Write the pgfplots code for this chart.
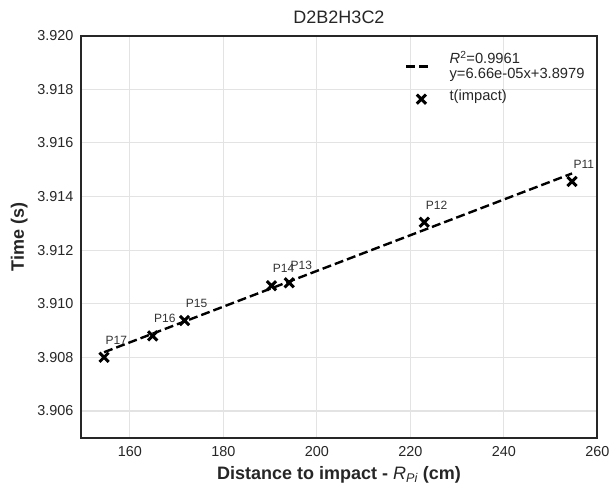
\documentclass[border=0pt]{standalone}
\usepackage{fontspec}
\setmainfont{Liberation Sans}
\usepackage{pgfplots}
\pgfplotsset{compat=1.18}
\usepackage{pgfplotstable}
\definecolor{axcol}{HTML}{262626}
\definecolor{gridcol}{HTML}{E3E3E3}
\definecolor{lblcol}{HTML}{333333}

\pgfplotsset{
  fitleg/.style={legend image code/.code={\draw[##1] (0pt,1pt) -- (25pt,1pt);}},
  markleg/.style={legend image code/.code={\draw[##1] plot coordinates {(15pt,-2pt)};}},
}

\pgfplotstableread{
label x y
P17 154.5 3.90800
P16 164.9 3.90880
P15 171.7 3.90937
P14 190.3 3.91067
P13 194.1 3.91078
P12 223.0 3.91304
P11 254.6 3.91456
}\pointdata

\pgfplotstableread{
x y
154.5 3.90819
254.6 3.91486
}\fitdata

\begin{document}
\begin{tikzpicture}
\useasboundingbox (-80.7pt,-47.3pt) rectangle (529.3pt,437.7pt);
\begin{axis}[
  at={(0pt,0pt)}, anchor=south west,
  scale only axis, width=516.6pt, height=402pt,
  xmin=149.5, xmax=260, ymin=3.905, ymax=3.920,
  xtick={160,180,200,220,240,260},
  ytick={3.906,3.908,3.910,3.912,3.914,3.916,3.918,3.920},
  scaled ticks=false,
  major tick length=0pt,
  tick style={draw=none},
  grid=major,
  major grid style={gridcol, line width=1.2pt},
  axis line style={axcol, line width=2pt},
  clip=false,
  x tick label style={font=\fontsize{14.4}{16}\selectfont, text=axcol, anchor=north, inner sep=0pt, yshift=-9pt, /pgf/number format/assume math mode=true},
  y tick label style={font=\fontsize{14.4}{16}\selectfont, text=axcol, anchor=east, inner sep=0pt, xshift=-7.2pt, /pgf/number format/fixed, /pgf/number format/fixed zerofill, /pgf/number format/precision=3, /pgf/number format/assume math mode=true},
  title={D2B2H3C2},
  title style={font=\fontsize{18}{21}\selectfont, text=axcol, at={(axis description cs:0.5,1)}, anchor=base, inner sep=0pt, yshift=6.4pt},
  xlabel={Distance to impact - {\mdseries\itshape R}\textsubscript{\mdseries\itshape Pi} (cm)},
  xlabel style={font=\fontsize{18}{21}\selectfont\bfseries, text=axcol, at={(axis description cs:0.5,0)}, anchor=base, inner sep=0pt, yshift=-41.3pt},
  ylabel={Time (s)},
  ylabel style={font=\fontsize{18}{21}\selectfont\bfseries, text=axcol, at={(axis description cs:0,0.5)}, anchor=south, inner sep=0pt, yshift=53pt},
  legend cell align=left,
  legend style={at={(axis description cs:1,1)}, anchor=north east, xshift=-12.6pt, yshift=-15.5pt,
    draw=none, fill=none, inner sep=0pt, row sep=7pt, column sep=17pt,
    font=\fontsize{14.7}{15}\selectfont, text=axcol,
    nodes={inner sep=0pt, text depth={}, text height={}}},
]
\addplot[black, line width=2.4pt, dash pattern=on 9pt off 4pt, fitleg]
  table[x=x, y=y] {\fitdata};
\addlegendentry{\begin{tabular}{@{}l@{}}\textit{R}\textsuperscript{2}=0.9961\\y=6.66e-05x+3.8979\end{tabular}}
\addplot[only marks, mark=x, mark size=6.5pt, black, line width=3pt, markleg,
  nodes near coords, point meta=explicit symbolic,
  nodes near coords style={anchor=base west, inner sep=0pt, yshift=13pt, font=\fontsize{12}{14}\selectfont, text=lblcol}]
  table[x=x, y=y, meta=label] {\pointdata};
\addlegendentry{t(impact)}
\end{axis}
\end{tikzpicture}
\end{document}
